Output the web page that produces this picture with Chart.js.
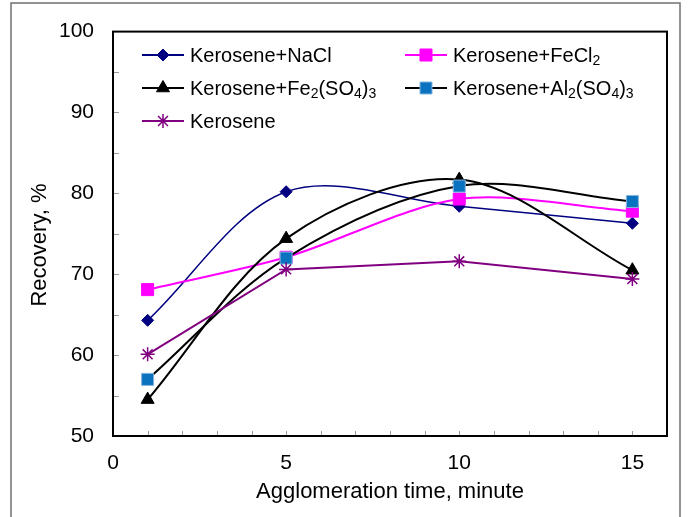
<!DOCTYPE html>
<html>
<head>
<meta charset="utf-8">
<script src="https://cdn.jsdelivr.net/npm/chart.js@4.4.0/dist/chart.umd.min.js"></script>
<style>
  html, body { margin: 0; padding: 0; background: #fff; }
  #wrap { width: 688px; height: 517px; position: relative; }
</style>
</head>
<body>
<div id="wrap"><canvas id="chart"></canvas></div>
<script>
// Agglomeration time (minute) vs recovery (%)
const times = [1, 5, 10, 15];
const naclValues = [64.3, 80.2, 78.4, 76.3];
const fecl2Values = [68.1, 72.1, 79.3, 77.8];
const fe2so4Values = [54.5, 74.4, 81.7, 70.5];
const al2so4Values = [57.0, 72.0, 80.9, 79.0];
const keroseneValues = [60.1, 70.6, 71.6, 69.4];

const seriesLabels = [
  "Kerosene+NaCl",
  "Kerosene+FeCl₂",
  "Kerosene+Fe₂(SO₄)₃",
  "Kerosene+Al₂(SO₄)₃",
  "Kerosene",
];
const yTitle = "Recovery, %";
const xTitle = "Agglomeration time, minute";

const FONT = '"Liberation Sans", Arial, sans-serif';

const toPoints = (vals) => vals.map((v, i) => ({ x: times[i], y: v }));

// Outer frame of the picture
const outerFrame = {
  id: "outerFrame",
  beforeDraw(chart) {
    const ctx = chart.ctx;
    ctx.save();
    ctx.strokeStyle = "#707070";
    ctx.lineWidth = 1.5;
    ctx.strokeRect(11, 3, 669, 600);
    ctx.restore();
  },
};

// Plot frame + small inside ticks + y title
const plotFrame = {
  id: "plotFrame",
  afterDatasetsDraw(chart) {
    const { ctx, chartArea: a, scales } = chart;
    ctx.save();
    ctx.strokeStyle = "#9a9a9a";
    ctx.lineWidth = 1;
    for (let v = 1; v < 16; v++) {
      const px = Math.round(scales.x.getPixelForValue(v)) + 0.5;
      ctx.beginPath();
      ctx.moveTo(px, a.bottom);
      ctx.lineTo(px, a.bottom - 5);
      ctx.stroke();
    }
    for (let v = 55; v < 100; v += 5) {
      const py = Math.round(scales.y.getPixelForValue(v)) + 0.5;
      ctx.beginPath();
      ctx.moveTo(a.left, py);
      ctx.lineTo(a.left + 6, py);
      ctx.stroke();
    }
    ctx.strokeStyle = "#000";
    ctx.lineWidth = 2;
    ctx.strokeRect(a.left, a.top, a.right - a.left, a.bottom - a.top);

    // y axis title, sits a bit below the plot middle as in the source
    ctx.translate(40, 245);
    ctx.rotate(-Math.PI / 2);
    ctx.fillStyle = "#000";
    ctx.font = "22px " + FONT;
    ctx.textAlign = "center";
    ctx.textBaseline = "middle";
    ctx.fillText(yTitle, 0, 0);
    ctx.restore();
  },
};

function drawRich(ctx, text, x, y, size) {
  const subs = "₀₁₂₃₄₅₆₇₈₉";
  let cx = x;
  let run = "";
  const flush = () => {
    if (!run) return;
    ctx.font = size + "px " + FONT;
    ctx.fillText(run, cx, y);
    cx += ctx.measureText(run).width;
    run = "";
  };
  for (const ch of text) {
    const i = subs.indexOf(ch);
    if (i >= 0) {
      flush();
      ctx.font = Math.round(size * 0.7) + "px " + FONT;
      ctx.fillText(String(i), cx, y + 2.5);
      cx += ctx.measureText(String(i)).width;
    } else {
      run += ch;
    }
  }
  flush();
}

// Two column legend inside the plot
const boxLegend = {
  id: "boxLegend",
  afterDraw(chart) {
    const ctx = chart.ctx;
    const slots = [
      [142, 55], [405, 55],
      [142, 88], [405, 88],
      [142, 121],
    ];
    ctx.save();
    chart.data.datasets.forEach((ds, i) => {
      const [x, y] = slots[i];
      ctx.strokeStyle = ds.borderColor;
      ctx.lineWidth = 2;
      ctx.beginPath();
      ctx.moveTo(x, y);
      ctx.lineTo(x + 42, y);
      ctx.stroke();
      ctx.fillStyle = ds.pointBackgroundColor;
      ctx.strokeStyle = ds.pointBorderColor;
      ctx.lineWidth = ds.pointBorderWidth;
      Chart.helpers.drawPoint(ctx, {
        pointStyle: ds.pointStyle,
        radius: ds.pointRadius,
        rotation: 0,
        borderWidth: ds.pointBorderWidth,
      }, x + 21, y);
      ctx.fillStyle = "#000";
      ctx.textBaseline = "alphabetic";
      drawRich(ctx, ds.label, x + 48, y + 7, 20);
    });
    ctx.restore();
  },
};

new Chart(document.getElementById("chart"), {
  type: "line",
  data: {
    datasets: [
      {
        label: seriesLabels[0],
        data: toPoints(naclValues),
        borderColor: "#000080",
        borderWidth: 1.5,
        tension: 0.33,
        pointStyle: "rectRot",
        pointRadius: 6,
        pointBackgroundColor: "#000080",
        pointBorderColor: "#000080",
        pointBorderWidth: 1,
        order: 5,
      },
      {
        label: seriesLabels[1],
        data: toPoints(fecl2Values),
        borderColor: "#FF00FF",
        borderWidth: 2,
        tension: 0.3,
        pointStyle: "rect",
        pointRadius: 8.5,
        pointBackgroundColor: "#FF00FF",
        pointBorderColor: "#FF00FF",
        pointBorderWidth: 1,
        order: 4,
      },
      {
        label: seriesLabels[2],
        data: toPoints(fe2so4Values),
        borderColor: "#000000",
        borderWidth: 2,
        tension: 0.33,
        pointStyle: "triangle",
        pointRadius: 7.5,
        pointBackgroundColor: "#000000",
        pointBorderColor: "#000000",
        pointBorderWidth: 1,
        order: 3,
      },
      {
        label: seriesLabels[3],
        data: toPoints(al2so4Values),
        borderColor: "#000000",
        borderWidth: 2,
        tension: 0.33,
        pointStyle: "rect",
        pointRadius: 8.5,
        pointBackgroundColor: "#0A72BF",
        pointBorderColor: "#86B6DE",
        pointBorderWidth: 1,
        order: 2,
      },
      {
        label: seriesLabels[4],
        data: toPoints(keroseneValues),
        borderColor: "#800080",
        borderWidth: 2,
        tension: 0,
        pointStyle: "star",
        pointRadius: 7,
        pointBackgroundColor: "#800080",
        pointBorderColor: "#800080",
        pointBorderWidth: 1.5,
        order: 1,
      },
    ],
  },
  options: {
    responsive: true,
    maintainAspectRatio: false,
    animation: false,
    layout: { padding: { left: 0, right: 21, top: 26, bottom: 0 } },
    plugins: {
      legend: { display: false },
      tooltip: { enabled: false },
    },
    scales: {
      x: {
        type: "linear",
        min: 0,
        max: 16,
        grid: { display: false, drawTicks: false },
        border: { display: false },
        ticks: {
          stepSize: 5,
          includeBounds: false,
          padding: 15,
          color: "#000",
          font: { family: FONT, size: 21 },
        },
        title: {
          display: true,
          text: xTitle,
          color: "#000",
          font: { family: FONT, size: 22 },
          padding: { top: 0, bottom: 12 },
        },
        afterFit: (scale) => { scale.height = 81; },
      },
      y: {
        min: 50,
        max: 100,
        grid: { display: false, drawTicks: false },
        border: { display: false },
        ticks: {
          stepSize: 10,
          padding: 19,
          color: "#000",
          font: { family: FONT, size: 21 },
        },
        afterFit: (scale) => { scale.width = 113; },
      },
    },
  },
  plugins: [outerFrame, plotFrame, boxLegend],
});
</script>
</body>
</html>
